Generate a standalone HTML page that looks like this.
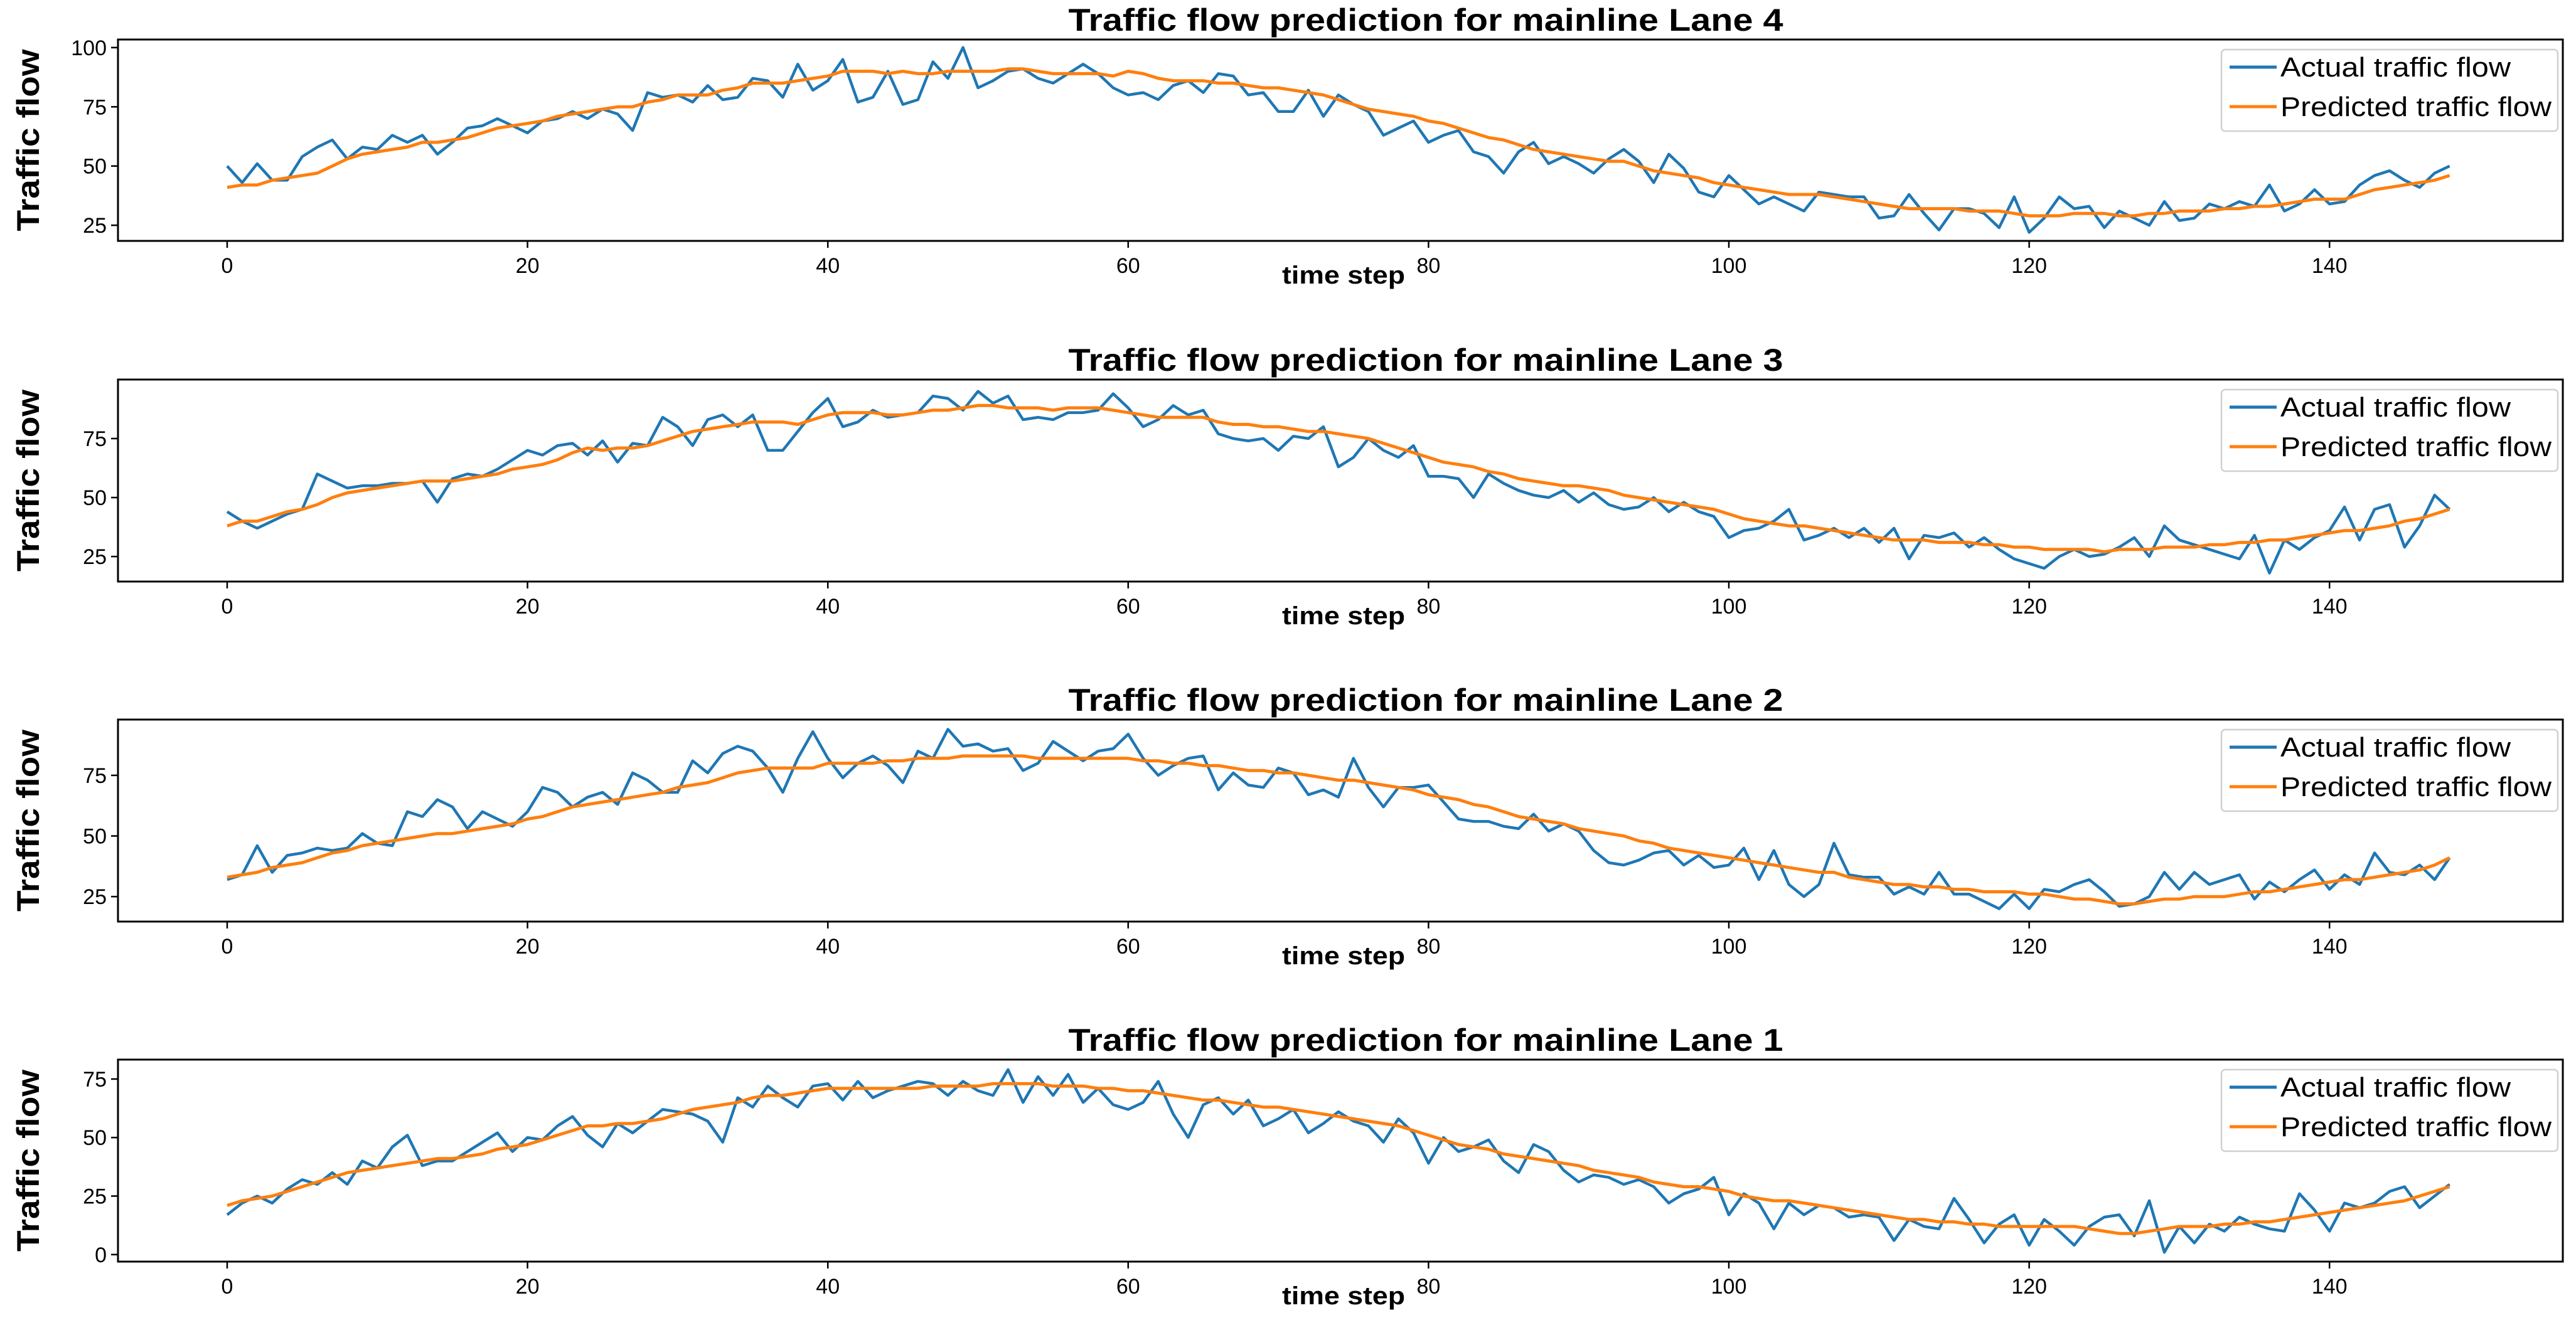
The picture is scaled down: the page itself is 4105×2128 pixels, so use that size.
<!DOCTYPE html>
<html><head><meta charset="utf-8">
<style>
html,body{margin:0;padding:0;background:#fff;}
svg{display:block;font-family:"Liberation Sans",sans-serif;}
</style></head>
<body>
<svg id="chart" width="4105" height="2128" viewBox="0 0 4105 2128" xmlns="http://www.w3.org/2000/svg"></svg>
<script>
const laneNames = ["Lane 4","Lane 3","Lane 2","Lane 1"];
const xTicks = [0,20,40,60,80,100,120,140];
const yTicks4 = [25,50,75,100];
const yTicks3 = [25,50,75];
const yTicks2 = [25,50,75];
const yTicks1 = [0,25,50,75];
const actual4 = [50,43,51,44,44,54,58,61,53,58,57,63,60,63,55,60,66,67,70,67,64,69,70,73,70,74,72,65,81,79,80,77,84,78,79,87,86,79,93,82,86,95,77,79,90,76,78,94,87,100,83,86,90,91,87,85,89,93,89,83,80,81,78,84,86,81,89,88,80,81,73,73,82,71,80,76,73,63,66,69,60,63,65,56,54,47,56,60,51,54,51,47,53,57,52,43,55,49,39,37,46,40,34,37,34,31,39,38,37,37,28,29,38,30,23,32,32,30,24,37,22,28,37,32,33,24,31,28,25,35,27,28,34,32,35,33,42,31,34,40,34,35,42,46,48,44,41,47,50];
const pred4 = [41,42,42,44,45,46,47,50,53,55,56,57,58,60,60,61,62,64,66,67,68,69,71,72,73,74,75,75,77,78,80,80,80,82,83,85,85,85,86,87,88,90,90,90,89,90,89,89,90,90,90,90,91,91,90,89,89,89,89,88,90,89,87,86,86,86,85,85,84,83,83,82,81,80,78,76,74,73,72,71,69,68,66,64,62,61,59,57,56,55,54,53,52,52,50,48,47,46,45,43,42,41,40,39,38,38,38,37,36,35,34,33,32,32,32,32,31,31,31,30,29,29,29,30,30,30,29,29,30,30,31,31,31,32,32,33,33,34,35,36,36,36,38,40,41,42,43,44,46];
const actual3 = [44,40,37,40,43,45,60,57,54,55,55,56,56,57,48,58,60,59,62,66,70,68,72,73,68,74,65,73,72,84,80,72,83,85,80,85,70,70,78,86,92,80,82,87,84,85,86,93,92,87,95,90,93,83,84,83,86,86,87,94,88,80,83,89,85,87,77,75,74,75,70,76,75,80,63,67,75,70,67,72,59,59,58,50,60,56,53,51,50,53,48,52,47,45,46,50,44,48,44,42,33,36,37,40,45,32,34,37,33,37,31,37,24,34,33,35,29,33,28,24,22,20,25,28,25,26,29,33,25,38,32,30,28,26,24,34,18,32,28,33,36,46,32,45,47,29,38,51,45];
const pred3 = [38,40,40,42,44,45,47,50,52,53,54,55,56,57,57,57,58,59,60,62,63,64,66,69,71,70,71,71,72,74,76,78,79,80,81,82,82,82,81,83,85,86,86,86,85,85,86,87,87,88,89,89,88,88,88,87,88,88,88,87,86,85,84,84,84,84,82,81,81,80,80,79,78,78,77,76,75,73,71,69,67,65,64,63,61,60,58,57,56,55,55,54,53,51,50,49,48,47,46,45,43,41,40,39,38,38,37,36,35,34,33,32,32,32,31,31,31,30,30,29,29,28,28,28,28,27,28,28,28,29,29,29,30,30,31,31,32,32,33,34,35,36,36,37,38,40,41,43,45];
const actual2 = [32,34,46,35,42,43,45,44,45,51,47,46,60,58,65,62,53,60,57,54,60,70,68,62,66,68,63,76,73,68,68,81,76,84,87,85,78,68,82,93,82,74,80,83,79,72,85,82,94,87,88,85,86,77,80,89,85,81,85,86,92,82,75,79,82,83,69,76,71,70,78,76,67,69,66,82,70,62,70,70,71,64,57,56,56,54,53,59,52,55,52,44,39,38,40,43,44,38,42,37,38,45,32,44,30,25,30,47,34,33,33,26,29,26,35,26,26,23,20,26,20,28,27,30,32,27,21,22,25,35,28,35,30,32,34,24,31,27,32,36,28,34,30,43,35,34,38,32,41];
const pred2 = [33,34,35,37,38,39,41,43,44,46,47,48,49,50,51,51,52,53,54,55,57,58,60,62,63,64,65,66,67,68,70,71,72,74,76,77,78,78,78,78,80,80,80,80,81,81,82,82,82,83,83,83,83,83,82,82,82,82,82,82,82,81,81,80,80,79,79,78,77,77,76,76,75,74,73,73,72,71,70,69,67,66,65,63,62,60,58,57,56,55,53,52,51,50,48,47,45,44,43,42,41,40,39,38,37,36,35,35,33,32,31,30,30,29,29,28,28,27,27,27,26,26,25,24,24,23,22,22,23,24,24,25,25,25,26,27,27,28,29,30,31,32,32,33,34,35,36,38,41];
const actual1 = [17,22,25,22,28,32,30,35,30,40,37,46,51,38,40,40,44,48,52,44,50,49,55,59,51,46,56,52,57,62,61,60,57,48,67,63,72,67,63,72,73,66,74,67,70,72,74,73,68,74,70,68,79,65,76,68,77,65,71,64,62,65,74,60,50,64,67,60,66,55,58,62,52,56,61,57,55,48,58,52,39,50,44,46,49,40,35,47,44,36,31,34,33,30,32,29,22,26,28,33,17,26,22,11,22,17,21,20,16,17,16,6,15,12,11,24,15,5,13,17,4,15,10,4,12,16,17,8,23,1,12,5,13,10,16,13,11,10,26,19,10,22,20,22,27,29,20,25,30];
const pred1 = [21,23,24,25,27,29,31,33,35,36,37,38,39,40,41,41,42,43,45,46,47,49,51,53,55,55,56,56,57,58,60,62,63,64,65,67,68,68,69,70,71,71,71,71,71,71,71,72,72,72,72,73,73,73,73,72,72,72,71,71,70,70,69,68,67,66,66,65,64,63,63,62,61,60,59,58,57,56,55,53,51,49,47,46,45,43,42,41,40,39,38,36,35,34,33,31,30,29,29,28,27,25,24,23,23,22,21,20,19,18,17,16,15,15,14,14,13,13,12,12,12,12,12,12,11,10,9,9,10,11,12,12,12,13,13,14,14,15,16,17,18,19,20,21,22,23,25,27,29];

const NS = "http://www.w3.org/2000/svg";
const svg = document.getElementById("chart");
function mk(tag, attrs, parent){ const e=document.createElementNS(NS,tag); for(const k in attrs) e.setAttribute(k,attrs[k]); (parent||svg).appendChild(e); return e; }

const L=188, R=4084;
const xScale = v => 362 + v*23.93;
const panels = [
  {top:63, bottom:384, ymin:18.4, ymax:103.4, ticks:yTicks4, a:actual4, p:pred4, titleW:1139},
  {top:605, bottom:927, ymin:14.4, ymax:100, ticks:yTicks3, a:actual3, p:pred3, titleW:1139},
  {top:1147, bottom:1469, ymin:14.7, ymax:98, ticks:yTicks2, a:actual2, p:pred2, titleW:1139},
  {top:1689, bottom:2011, ymin:-3, ymax:83.3, ticks:yTicks1, a:actual1, p:pred1, titleW:1139}
];

panels.forEach((P, pi) => {
  const g = mk("g", {});
  
  
  const yScale = v => P.bottom - (v - P.ymin) / (P.ymax - P.ymin) * (P.bottom - P.top);

  const t = mk("text", {x:2272, y:P.top-14, "text-anchor":"middle", "font-size":50, "font-weight":"bold", textLength:P.titleW, lengthAdjust:"spacingAndGlyphs"}, g);
  t.textContent = "Traffic flow prediction for mainline " + laneNames[pi];
  
  

  const cy = (P.top+P.bottom)/2;
  const yl = mk("text", {x:0, y:0, transform:`translate(62,${cy}) rotate(-90)`, "text-anchor":"middle", "font-size":50, "font-weight":"bold", textLength:290, lengthAdjust:"spacingAndGlyphs"}, g);
  yl.textContent = "Traffic flow";
  
  

  const xl = mk("text", {x:2141, y:P.bottom+68, "text-anchor":"middle", "font-size":40, "font-weight":"bold", textLength:196, lengthAdjust:"spacingAndGlyphs"}, g);
  xl.textContent = "time step";
  
  

  xTicks.forEach(v => {
    const x = xScale(v);
    const tk = mk("line", {x1:x, x2:x, y1:P.bottom, y2:P.bottom+11, stroke:"#000", "stroke-width":2.5}, g);
    
    
    const lb = mk("text", {x:x, y:P.bottom+51, "text-anchor":"middle", "font-size":34}, g);
    lb.textContent = v;
    
    
  });
  P.ticks.forEach(v => {
    const y = yScale(v);
    const tk = mk("line", {x1:L-11, x2:L, y1:y, y2:y, stroke:"#000", "stroke-width":2.5}, g);
    
    
    const lb = mk("text", {x:L-18, y:y+12, "text-anchor":"end", "font-size":34}, g);
    lb.textContent = v;
    
    
  });

  const pts = arr => arr.map((v,i)=> xScale(i).toFixed(1)+","+yScale(v).toFixed(1)).join(" ");
  const la = mk("polyline", {points:pts(P.a), fill:"none", stroke:"#1f77b4", "stroke-width":4.5, "stroke-linejoin":"round"}, g);
  
  
  const lp = mk("polyline", {points:pts(P.p), fill:"none", stroke:"#ff7f0e", "stroke-width":5, "stroke-linejoin":"round"}, g);
  
  

  const fr = mk("rect", {x:L, y:P.top, width:R-L, height:P.bottom-P.top, fill:"none", stroke:"#000", "stroke-width":3}, g);
  
  

  const lg = mk("g", {}, g);
  
  
  const box = mk("rect", {x:3540, y:P.top+16, width:536, height:130, rx:6, fill:"#fff", "fill-opacity":0.85, stroke:"#d0d0d0", "stroke-width":2.5}, lg);
  
  
  [["Actual traffic flow","#1f77b4",44,367],["Predicted traffic flow","#ff7f0e",107,432]].forEach(([txt,col,dy,w],k)=>{
    const e = mk("g", {}, lg);
    
    
    mk("line", {x1:3553, x2:3628, y1:P.top+dy, y2:P.top+dy, stroke:col, "stroke-width":5}, e);
    const tx = mk("text", {x:3634, y:P.top+dy+15, "font-size":44, textLength:w, lengthAdjust:"spacingAndGlyphs"}, e);
    tx.textContent = txt;
  });
});
</script>
</body></html>
